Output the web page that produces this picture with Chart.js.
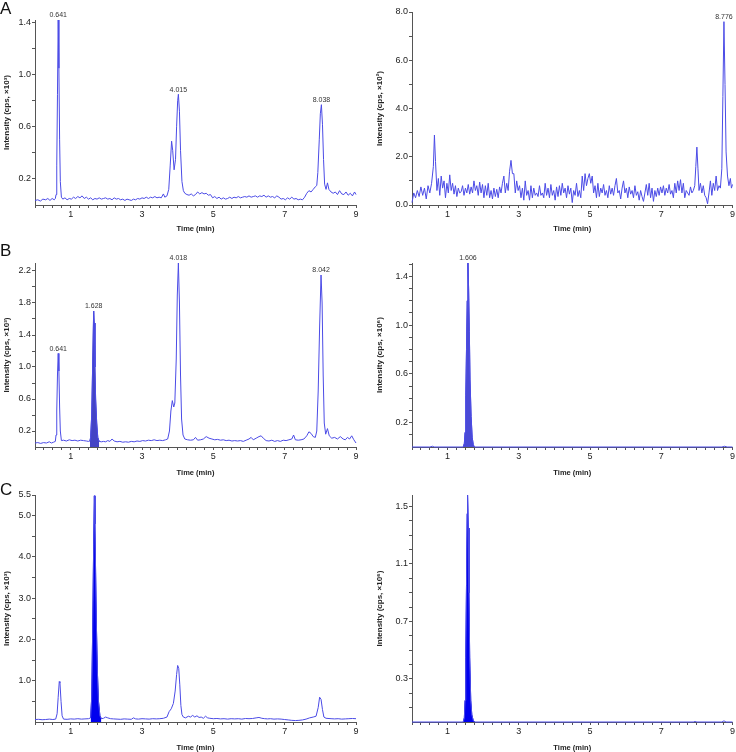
<!DOCTYPE html>
<html>
<head>
<meta charset="utf-8">
<script src="https://cdn.jsdelivr.net/npm/chart.js@4.4.1/dist/chart.umd.min.js"></script>
<style>
  body { margin: 0; background: #fff; }
  #fig { position: relative; width: 736px; height: 752px; overflow: hidden; font-family: "Liberation Sans", Arial, sans-serif; }
  #fig canvas { position: absolute; }
  .tag { position: absolute; left: 0; font-size: 17px; line-height: 1; color: #111; }
</style>
</head>
<body>
<div id="fig">
  <canvas id="a1" width="368" height="240" style="left:0;top:0"></canvas>
  <canvas id="a2" width="368" height="240" style="left:368px;top:0"></canvas>
  <canvas id="b1" width="368" height="245" style="left:0;top:240px"></canvas>
  <canvas id="b2" width="368" height="245" style="left:368px;top:240px"></canvas>
  <canvas id="c1" width="368" height="267" style="left:0;top:485px"></canvas>
  <canvas id="c2" width="368" height="267" style="left:368px;top:485px"></canvas>
  <div class="tag" style="top:0">A</div>
  <div class="tag" style="top:242px">B</div>
  <div class="tag" style="top:481px">C</div>
</div>
<script>
// x axis (time, min)
const timeLabels = [1, 3, 5, 7, 9];

// panel A, left: [time, intensity]
const traceA1 = [[0,0.035],[0.08,0.04],[0.15,0.03],[0.22,0.045],[0.3,0.04],[0.36,0.05],[0.42,0.035],[0.48,0.05],[0.54,0.04],[0.57,0.05],
  [0.59,0.08],[0.61,0.3],[0.63,0.85],[0.65,1.42],[0.67,1.05],[0.69,0.5],[0.71,0.18],[0.74,0.06],[0.78,0.045],[0.84,0.055],
  [0.9,0.04],[0.96,0.05],[1.02,0.045],[1.08,0.06],[1.14,0.05],[1.2,0.065],[1.26,0.055],[1.32,0.07],[1.38,0.05],[1.44,0.06],
  [1.5,0.045],[1.56,0.055],[1.62,0.04],[1.68,0.05],[1.74,0.045],[1.8,0.055],[1.86,0.045],[1.92,0.05],[1.98,0.055],[2.04,0.045],
  [2.1,0.05],[2.16,0.04],[2.22,0.055],[2.28,0.045],[2.34,0.05],[2.4,0.04],[2.46,0.045],[2.52,0.035],[2.58,0.045],[2.64,0.04],
  [2.7,0.035],[2.76,0.045],[2.82,0.04],[2.88,0.05],[2.94,0.045],[3.0,0.055],[3.06,0.05],[3.12,0.06],[3.18,0.05],[3.24,0.06],
  [3.3,0.055],[3.36,0.065],[3.42,0.055],[3.48,0.06],[3.54,0.055],[3.6,0.085],[3.64,0.06],[3.7,0.07],[3.75,0.12],[3.79,0.3],
  [3.83,0.49],[3.86,0.42],[3.9,0.27],[3.94,0.35],[3.97,0.6],[4.0,0.8],[4.02,0.85],[4.05,0.72],[4.08,0.42],[4.12,0.18],
  [4.16,0.11],[4.2,0.09],[4.26,0.08],[4.32,0.075],[4.38,0.085],[4.44,0.07],[4.5,0.08],[4.56,0.1],[4.62,0.085],[4.68,0.095],
  [4.74,0.085],[4.8,0.09],[4.86,0.075],[4.92,0.08],[4.98,0.055],[5.04,0.065],[5.1,0.05],[5.16,0.06],[5.22,0.045],[5.28,0.055],
  [5.34,0.045],[5.4,0.05],[5.46,0.06],[5.52,0.05],[5.58,0.06],[5.64,0.055],[5.7,0.065],[5.76,0.055],[5.82,0.06],[5.88,0.065],
  [5.94,0.06],[6.0,0.07],[6.06,0.06],[6.12,0.065],[6.18,0.07],[6.24,0.06],[6.3,0.07],[6.36,0.065],[6.42,0.075],[6.48,0.06],
  [6.54,0.07],[6.6,0.06],[6.66,0.065],[6.72,0.055],[6.78,0.07],[6.84,0.06],[6.9,0.045],[6.96,0.05],[7.02,0.04],[7.08,0.055],
  [7.14,0.045],[7.2,0.06],[7.26,0.045],[7.32,0.05],[7.38,0.04],[7.44,0.045],[7.5,0.04],[7.56,0.06],[7.62,0.09],[7.68,0.11],
  [7.74,0.1],[7.8,0.12],[7.86,0.14],[7.9,0.15],[7.93,0.25],[7.97,0.5],[8.0,0.7],[8.03,0.77],[8.06,0.62],[8.09,0.35],
  [8.12,0.16],[8.16,0.12],[8.2,0.17],[8.24,0.12],[8.3,0.1],[8.36,0.09],[8.42,0.1],[8.48,0.08],[8.54,0.11],[8.6,0.085],
  [8.66,0.08],[8.72,0.1],[8.78,0.075],[8.84,0.09],[8.9,0.07],[8.96,0.1],[9.0,0.08]];
const peakTextA1 = ['0.641', '4.015', '8.038'];
const peakTimeA1 = [0.65, 4.02, 8.03];
const yLabelsA1 = [0.2, 0.6, 1.0, 1.4];

// panel A, right
const traceA2 = [[0,0.1],[0.05,0.5],[0.1,0.3],[0.15,0.6],[0.2,0.35],[0.25,0.75],[0.3,0.4],[0.35,0.7],[0.4,0.25],[0.45,0.8],
  [0.5,0.5],[0.55,0.9],[0.6,1.6],[0.63,2.9],[0.66,1.8],[0.7,0.6],[0.74,1.1],[0.78,0.4],[0.82,1.2],[0.86,0.7],
  [0.9,1.0],[0.94,0.3],[0.98,0.9],[1.02,0.5],[1.06,1.25],[1.1,0.6],[1.14,0.9],[1.18,0.45],[1.22,0.8],[1.26,0.35],
  [1.3,0.7],[1.34,0.5],[1.38,0.55],[1.42,0.8],[1.46,0.4],[1.5,0.7],[1.54,0.5],[1.58,0.85],[1.62,0.45],[1.66,0.75],
  [1.7,0.5],[1.74,1.0],[1.78,0.6],[1.82,0.8],[1.86,0.4],[1.9,0.95],[1.94,0.5],[1.98,0.85],[2.02,0.3],[2.06,0.8],
  [2.1,0.4],[2.14,0.9],[2.18,0.3],[2.22,0.6],[2.26,0.25],[2.3,0.7],[2.34,0.35],[2.38,0.65],[2.42,0.3],[2.46,0.75],
  [2.5,0.5],[2.54,0.9],[2.58,1.2],[2.62,0.5],[2.66,0.9],[2.7,0.6],[2.74,1.4],[2.78,1.85],[2.82,1.3],[2.86,1.3],
  [2.9,0.5],[2.94,1.0],[2.98,0.6],[3.02,0.8],[3.06,0.3],[3.1,0.7],[3.14,0.2],[3.18,1.0],[3.22,0.4],[3.26,0.6],
  [3.3,0.2],[3.34,0.8],[3.38,0.3],[3.42,0.7],[3.46,0.4],[3.5,0.5],[3.54,0.35],[3.58,0.8],[3.62,0.4],[3.66,0.5],
  [3.7,0.3],[3.74,0.9],[3.78,0.4],[3.82,0.7],[3.86,0.3],[3.9,0.85],[3.94,0.4],[3.98,0.6],[4.02,0.2],[4.06,0.75],
  [4.1,0.35],[4.14,0.8],[4.18,0.4],[4.22,0.9],[4.26,0.5],[4.3,0.7],[4.34,0.3],[4.38,0.8],[4.42,0.45],[4.46,0.7],
  [4.5,0.1],[4.54,0.6],[4.58,0.4],[4.62,0.9],[4.66,0.35],[4.7,0.6],[4.74,0.3],[4.78,1.2],[4.82,0.6],[4.86,1.3],
  [4.9,0.8],[4.94,1.1],[4.98,1.3],[5.02,0.9],[5.06,1.2],[5.1,0.5],[5.14,0.8],[5.18,0.3],[5.22,0.9],[5.26,0.35],
  [5.3,0.7],[5.34,0.5],[5.38,0.85],[5.42,0.4],[5.46,0.6],[5.5,0.3],[5.54,0.8],[5.58,0.45],[5.62,0.7],[5.66,0.4],
  [5.7,0.8],[5.74,1.1],[5.78,0.5],[5.82,0.6],[5.86,0.25],[5.9,0.7],[5.94,1.0],[5.98,0.5],[6.02,0.7],[6.06,0.3],
  [6.1,0.75],[6.14,0.45],[6.18,0.6],[6.22,0.3],[6.26,0.8],[6.3,0.4],[6.34,0.55],[6.38,0.2],[6.42,0.6],[6.46,0.35],
  [6.5,0.15],[6.54,0.5],[6.58,0.85],[6.62,0.4],[6.66,0.9],[6.7,0.3],[6.74,0.7],[6.78,0.15],[6.82,0.6],[6.86,0.35],
  [6.9,0.7],[6.94,0.4],[6.98,0.75],[7.02,0.5],[7.06,0.8],[7.1,0.4],[7.14,0.7],[7.18,0.5],[7.22,0.85],[7.26,0.45],
  [7.3,0.6],[7.34,0.3],[7.38,0.9],[7.42,0.5],[7.46,1.0],[7.5,0.6],[7.54,1.05],[7.58,0.5],[7.62,0.9],[7.66,0.3],
  [7.7,0.6],[7.74,0.5],[7.78,0.4],[7.82,0.75],[7.86,0.5],[7.9,0.6],[7.94,0.8],[7.97,1.6],[8.0,2.4],[8.03,1.5],
  [8.06,0.6],[8.1,0.9],[8.14,0.5],[8.18,0.8],[8.22,0.4],[8.26,0.3],[8.3,0.05],[8.34,0.5],[8.38,1.0],[8.42,0.4],
  [8.46,0.9],[8.5,0.6],[8.54,1.2],[8.58,0.6],[8.62,0.8],[8.66,0.7],[8.7,1.5],[8.73,4.5],[8.76,7.6],[8.79,5.0],
  [8.82,2.2],[8.86,1.2],[8.9,0.8],[8.94,1.1],[8.97,0.7],[9.0,0.85]];
const peakTextA2 = ['8.776'];
const peakTimeA2 = [8.76];
const yLabelsA2 = [0, 2, 4, 6, 8];

// panel B, left
const traceB1 = [[0,0.05],[0.08,0.055],[0.16,0.045],[0.24,0.055],[0.32,0.05],[0.4,0.065],[0.46,0.05],[0.52,0.06],[0.57,0.07],[0.59,0.15],
  [0.61,0.45],[0.63,0.9],[0.65,1.17],[0.67,0.95],[0.69,0.5],[0.71,0.2],[0.74,0.08],[0.8,0.085],[0.88,0.075],[0.96,0.09],[1.04,0.08],
  [1.12,0.085],[1.2,0.075],[1.28,0.085],[1.36,0.08],[1.44,0.075],[1.5,0.07],[1.54,0.075],[1.56,0.12],[1.59,0.4],[1.62,1.1],
  [1.645,1.7],[1.66,1.55],[1.68,1.0],[1.7,0.6],[1.73,0.3],[1.76,0.12],[1.8,0.07],[1.86,0.065],[1.92,0.07],[1.98,0.065],
  [2.04,0.08],[2.1,0.07],[2.16,0.1],[2.22,0.075],[2.3,0.065],[2.38,0.07],[2.46,0.06],[2.54,0.065],[2.62,0.06],[2.7,0.07],
  [2.78,0.065],[2.86,0.075],[2.94,0.07],[3.02,0.08],[3.1,0.075],[3.18,0.085],[3.26,0.08],[3.34,0.09],[3.42,0.08],[3.5,0.085],
  [3.58,0.08],[3.66,0.09],[3.72,0.1],[3.77,0.2],[3.81,0.45],[3.85,0.58],[3.89,0.5],[3.92,0.55],[3.96,1.1],[3.99,1.9],
  [4.02,2.3],[4.05,1.8],[4.08,0.9],[4.11,0.35],[4.15,0.15],[4.2,0.1],[4.28,0.09],[4.36,0.085],[4.44,0.09],[4.5,0.12],
  [4.56,0.085],[4.64,0.09],[4.72,0.1],[4.8,0.13],[4.88,0.11],[4.96,0.1],[5.04,0.09],[5.12,0.095],[5.2,0.085],[5.28,0.09],
  [5.36,0.08],[5.44,0.085],[5.52,0.075],[5.6,0.08],[5.68,0.075],[5.76,0.08],[5.84,0.07],[5.92,0.085],[6.0,0.1],[6.06,0.12],
  [6.12,0.09],[6.2,0.11],[6.28,0.13],[6.34,0.14],[6.4,0.11],[6.48,0.08],[6.56,0.075],[6.64,0.085],[6.72,0.07],[6.8,0.08],
  [6.88,0.07],[6.96,0.085],[7.04,0.08],[7.12,0.09],[7.2,0.1],[7.25,0.15],[7.3,0.09],[7.38,0.085],[7.46,0.09],[7.54,0.1],
  [7.62,0.14],[7.68,0.19],[7.74,0.17],[7.8,0.13],[7.86,0.12],[7.9,0.2],[7.94,0.7],[7.98,1.5],[8.02,2.15],[8.05,1.8],
  [8.08,0.9],[8.11,0.3],[8.15,0.16],[8.2,0.23],[8.25,0.14],[8.32,0.11],[8.4,0.12],[8.48,0.1],[8.56,0.13],[8.64,0.1],
  [8.7,0.09],[8.76,0.12],[8.82,0.1],[8.88,0.14],[8.94,0.09],[9.0,0.05]];
const fillRangeB1 = [1.54, 1.8];
const peakTextB1 = ['0.641', '1.628', '4.018', '8.042'];
const peakTimeB1 = [0.65, 1.645, 4.02, 8.02];
const yLabelsB1 = [0.2, 0.6, 1.0, 1.4, 1.8, 2.2];

// panel B, right
const traceB2 = [[0,0],[0.5,0],[0.58,0.006],[0.62,0],[1.44,0],[1.47,0.03],[1.49,0.12],[1.51,0.42],[1.53,0.8],[1.55,1.2],
  [1.57,1.51],[1.59,1.3],[1.61,0.95],[1.63,0.55],[1.66,0.25],[1.69,0.08],[1.72,0.02],[1.75,0],[8.7,0],[8.78,0.006],
  [8.85,0],[9,0]];
const fillRangeB2 = [1.44, 1.75];
const peakTextB2 = ['1.606'];
const peakTimeB2 = [1.57];
const yLabelsB2 = [0.2, 0.6, 1.0, 1.4];

// panel C, left
const traceC1 = [[0,0.06],[0.1,0.065],[0.2,0.055],[0.3,0.06],[0.4,0.07],[0.5,0.06],[0.58,0.07],[0.62,0.2],[0.65,0.6],[0.68,0.98],
  [0.7,0.95],[0.73,0.5],[0.76,0.15],[0.8,0.07],[0.9,0.065],[1.0,0.075],[1.1,0.07],[1.2,0.08],[1.3,0.07],[1.4,0.075],
  [1.5,0.08],[1.56,0.1],[1.59,0.6],[1.62,2.4],[1.645,4.3],[1.665,5.48],[1.68,4.8],[1.7,3.6],[1.72,2.4],[1.75,1.2],
  [1.78,0.5],[1.82,0.15],[1.86,0.08],[1.92,0.09],[1.98,0.12],[2.04,0.1],[2.12,0.08],[2.2,0.075],[2.3,0.07],[2.4,0.065],
  [2.5,0.075],[2.6,0.07],[2.7,0.065],[2.76,0.1],[2.82,0.075],[2.9,0.07],[3.0,0.08],[3.1,0.075],[3.2,0.07],[3.3,0.08],
  [3.4,0.075],[3.5,0.08],[3.6,0.09],[3.7,0.12],[3.76,0.25],[3.82,0.32],[3.88,0.45],[3.93,0.75],[3.97,1.15],[4.0,1.37],
  [4.03,1.3],[4.06,0.9],[4.09,0.4],[4.12,0.18],[4.16,0.12],[4.22,0.1],[4.3,0.14],[4.36,0.12],[4.42,0.16],[4.48,0.12],
  [4.54,0.15],[4.6,0.11],[4.66,0.12],[4.72,0.09],[4.78,0.14],[4.84,0.1],[4.9,0.09],[5.0,0.08],[5.1,0.085],[5.2,0.075],
  [5.3,0.08],[5.4,0.07],[5.5,0.08],[5.6,0.075],[5.7,0.08],[5.8,0.07],[5.9,0.085],[6.0,0.08],[6.1,0.085],[6.2,0.1],
  [6.28,0.11],[6.36,0.09],[6.44,0.08],[6.52,0.075],[6.6,0.08],[6.7,0.07],[6.8,0.075],[6.9,0.07],[7.0,0.06],[7.1,0.05],
  [7.2,0.04],[7.3,0.035],[7.4,0.04],[7.5,0.05],[7.6,0.07],[7.7,0.1],[7.8,0.12],[7.88,0.14],[7.94,0.35],[7.98,0.6],
  [8.02,0.55],[8.06,0.3],[8.1,0.12],[8.16,0.09],[8.3,0.08],[8.4,0.075],[8.5,0.08],[8.6,0.07],[8.7,0.075],[8.8,0.08],
  [8.9,0.085],[9.0,0.08]];
const fillRangeC1 = [1.56, 1.86];
const yLabelsC1 = [1.0, 2.0, 3.0, 4.0, 5.0, 5.5];

// panel C, right
const traceC2 = [[0,0],[1.44,0],[1.47,0.03],[1.49,0.15],[1.51,0.45],[1.53,0.95],[1.55,1.45],[1.56,1.58],[1.58,1.35],[1.6,0.9],
  [1.62,0.45],[1.65,0.15],[1.68,0.05],[1.72,0.01],[1.76,0],[7.9,0],[7.95,0.004],[8.0,0],[8.7,0],[8.76,0.008],
  [8.82,0],[9,0]];
const fillRangeC2 = [1.44, 1.76];
const yLabelsC2 = [0.3, 0.7, 1.1, 1.5];

const FONT = '"Liberation Sans", Arial, sans-serif';
const LINE = '#4b4be6';
const AXIS = '#555';

function steps(from, to, step) {
  const out = [];
  for (let v = from; v <= to + 1e-9; v += step) out.push(Math.round(v * 1000) / 1000);
  return out;
}

function toXY(trace) {
  return trace.map(p => ({ x: p[0], y: p[1] }));
}

const peakLabelPlugin = {
  id: 'peakLabels',
  afterDatasetsDraw(chart, args, opts) {
    if (!opts.texts) return;
    const { ctx, scales: { x, y } } = chart;
    const pts = chart.data.datasets[0].data;
    ctx.save();
    ctx.font = '7px ' + FONT;
    ctx.fillStyle = '#333';
    ctx.textAlign = 'center';
    ctx.textBaseline = 'bottom';
    opts.texts.forEach((txt, i) => {
      const t = opts.times[i];
      let best = null;
      pts.forEach(p => {
        if (Math.abs(p.x - t) < 0.06 && (!best || p.y > best.y)) best = p;
      });
      if (best) ctx.fillText(txt, x.getPixelForValue(best.x), y.getPixelForValue(best.y) - 1);
    });
    ctx.restore();
  }
};

function makePanel(id, cfg) {
  const data = toXY(cfg.trace);
  const datasets = [{
    data: data,
    borderColor: LINE,
    borderWidth: 1,
    pointRadius: 0,
    fill: false,
    tension: 0,
    clip: false
  }];
  if (cfg.fillRange) {
    datasets.push({
      data: data.filter(p => p.x >= cfg.fillRange[0] && p.x <= cfg.fillRange[1]),
      borderColor: cfg.fillColor,
      backgroundColor: cfg.fillColor,
      borderWidth: 1,
      pointRadius: 0,
      fill: 'origin',
      tension: 0,
      clip: false
    });
  }
  const yAll = cfg.yLabels.concat(steps(cfg.minorStep, cfg.yMax, cfg.minorStep))
    .filter((v, i, a) => v > 0 && v <= cfg.yMax + 1e-9 && a.findIndex(w => Math.abs(w - v) < 1e-6) === i)
    .sort((a, b) => a - b);
  if (cfg.yLabels[0] === 0) yAll.unshift(0);

  new Chart(document.getElementById(id), {
    type: 'line',
    data: { datasets: datasets },
    plugins: [peakLabelPlugin],
    options: {
      responsive: false,
      animation: false,
      events: [],
      layout: { padding: { top: cfg.padTop, right: cfg.padRight, left: 0, bottom: 0 } },
      plugins: {
        legend: { display: false },
        tooltip: { enabled: false },
        peakLabels: { texts: cfg.peakText, times: cfg.peakTime }
      },
      scales: {
        x: {
          type: 'linear',
          min: 0,
          max: 9,
          afterFit: s => { s.height = cfg.xHeight; },
          afterBuildTicks: s => { s.ticks = steps(0, 9, 0.25).map(v => ({ value: v })); },
          border: { display: true, color: AXIS, width: 1 },
          grid: { display: true, drawOnChartArea: false, drawTicks: true, tickLength: 3, tickColor: AXIS },
          ticks: {
            autoSkip: false,
            maxRotation: 0,
            padding: 1,
            color: '#222',
            font: { family: FONT, size: 9 },
            callback: v => timeLabels.includes(v) ? String(v) : ''
          },
          title: {
            display: true,
            text: 'Time (min)',
            color: '#222',
            font: { family: FONT, size: 7.5, weight: 'bold' },
            padding: { top: 0, bottom: cfg.xTitlePad }
          }
        },
        y: {
          type: 'linear',
          min: 0,
          max: cfg.yMax,
          afterFit: s => { s.width = cfg.yWidth; },
          afterBuildTicks: s => { s.ticks = yAll.map(v => ({ value: v })); },
          border: { display: true, color: AXIS, width: 1 },
          grid: { display: true, drawOnChartArea: false, drawTicks: true, tickLength: 3, tickColor: AXIS },
          ticks: {
            autoSkip: false,
            padding: 1,
            color: '#222',
            font: { family: FONT, size: 9 },
            callback: v => cfg.yLabels.some(w => Math.abs(w - v) < 1e-6) ? v.toFixed(1) : ''
          },
          title: {
            display: true,
            text: cfg.yTitle,
            color: '#222',
            font: { family: FONT, size: 8, weight: 'bold' },
            padding: { top: cfg.yTitlePad, bottom: 0 }
          }
        }
      }
    }
  });
}

makePanel('a1', { trace: traceA1, yLabels: yLabelsA1, minorStep: 0.2, yMax: 1.42,
  peakText: peakTextA1, peakTime: peakTimeA1, yTitle: 'Intensity (cps, ×10³)',
  padTop: 20, padRight: 12, yWidth: 35, xHeight: 35, xTitlePad: 7, yTitlePad: 2 });
makePanel('a2', { trace: traceA2, yLabels: yLabelsA2, minorStep: 1, yMax: 8.0,
  peakText: peakTextA2, peakTime: peakTimeA2, yTitle: 'Intensity (cps, ×10²)',
  padTop: 12, padRight: 3, yWidth: 44, xHeight: 35, xTitlePad: 7, yTitlePad: 7 });
makePanel('b1', { trace: traceB1, yLabels: yLabelsB1, minorStep: 0.2, yMax: 2.3,
  fillRange: fillRangeB1, fillColor: '#4444c4',
  peakText: peakTextB1, peakTime: peakTimeB1, yTitle: 'Intensity (cps, ×10³)',
  padTop: 23, padRight: 12, yWidth: 35, xHeight: 38, xTitlePad: 8, yTitlePad: 2 });
makePanel('b2', { trace: traceB2, yLabels: yLabelsB2, minorStep: 0.1, yMax: 1.51,
  fillRange: fillRangeB2, fillColor: '#4a4ad6',
  peakText: peakTextB2, peakTime: peakTimeB2, yTitle: 'Intensity (cps, ×10⁶)',
  padTop: 23, padRight: 3, yWidth: 44, xHeight: 38, xTitlePad: 8, yTitlePad: 7 });
makePanel('c1', { trace: traceC1, yLabels: yLabelsC1, minorStep: 0.5, yMax: 5.5,
  fillRange: fillRangeC1, fillColor: '#0000ee',
  yTitle: 'Intensity (cps, ×10³)',
  padTop: 10, padRight: 12, yWidth: 35, xHeight: 30, xTitlePad: 0, yTitlePad: 2 });
makePanel('c2', { trace: traceC2, yLabels: yLabelsC2, minorStep: 0.1, yMax: 1.58,
  fillRange: fillRangeC2, fillColor: '#0000ee',
  yTitle: 'Intensity (cps, ×10⁶)',
  padTop: 10, padRight: 3, yWidth: 44, xHeight: 30, xTitlePad: 0, yTitlePad: 7 });
</script>
</body>
</html>
